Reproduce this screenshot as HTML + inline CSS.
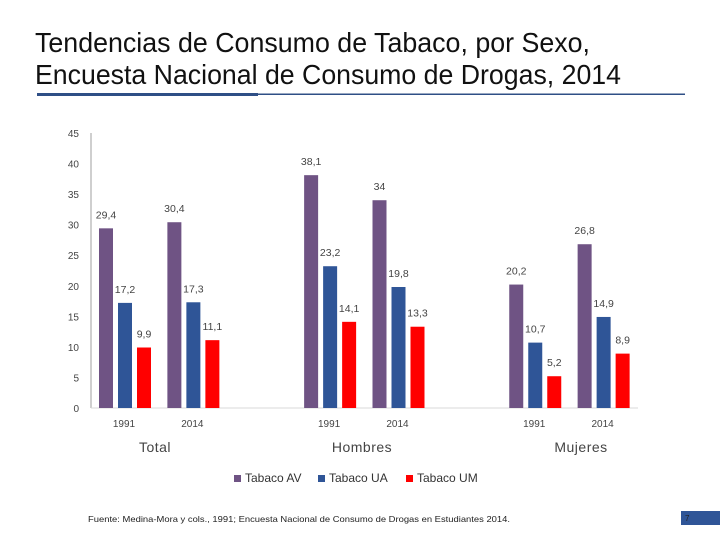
<!DOCTYPE html>
<html><head><meta charset="utf-8"><style>
html,body{margin:0;padding:0;background:#fff;}
svg{display:block;font-family:"Liberation Sans",sans-serif;}
</style></head><body>
<svg id="c" width="720" height="540" viewBox="0 0 720 540">
<text x="35" y="52" font-size="28" fill="#111" textLength="555" lengthAdjust="spacingAndGlyphs">Tendencias de Consumo de Tabaco, por Sexo,</text>
<text x="35" y="84" font-size="28" fill="#111" textLength="586" lengthAdjust="spacingAndGlyphs">Encuesta Nacional de Consumo de Drogas, 2014</text>
<rect x="37" y="93" width="221" height="3" fill="#2f4f86"/>
<rect x="258" y="93.5" width="427" height="1.5" fill="#2f4f86"/>
<g id="plot"></g>
<text x="155" y="452" font-size="14" fill="#444" letter-spacing="0.5" text-anchor="middle">Total</text>
<text x="362" y="452" font-size="14" fill="#444" letter-spacing="0.5" text-anchor="middle">Hombres</text>
<text x="581" y="452" font-size="14" fill="#444" letter-spacing="0.5" text-anchor="middle">Mujeres</text>
<g>
<rect x="234" y="475" width="7" height="7" fill="#6f5384"/>
<text x="245" y="482" font-size="12" fill="#333">Tabaco AV</text>
<rect x="318" y="475" width="7" height="7" fill="#2f5597"/>
<text x="329" y="482" font-size="12" fill="#333">Tabaco UA</text>
<rect x="406" y="475" width="7" height="7" fill="#ff0000"/>
<text x="417" y="482" font-size="12" fill="#333">Tabaco UM</text>
</g>
<text x="88" y="522" font-size="8.5" fill="#222" textLength="422" lengthAdjust="spacingAndGlyphs">Fuente: Medina-Mora y cols., 1991; Encuesta Nacional de Consumo de Drogas en Estudiantes 2014.</text>
<rect x="681" y="511" width="39" height="14" fill="#2f5597"/>
<text x="685" y="521" font-size="8" fill="#222">7</text>
</svg>
<script>
const categories = ["1991","2014","","1991","2014","","1991","2014"];
const tabacoAV = [29.4,30.4,null,38.1,34,null,20.2,26.8];
const tabacoUA = [17.2,17.3,null,23.2,19.8,null,10.7,14.9];
const tabacoUM = [9.9,11.1,null,14.1,13.3,null,5.2,8.9];
const yTicks = [0,5,10,15,20,25,30,35,40,45];
const seriesNames = ["av","ua","um"];
const seriesColors = ["#6f5384","#2f5597","#ff0000"];

const NS="http://www.w3.org/2000/svg";
const g=document.getElementById('plot');
const x0=91, x1=638, yBase=408, yTop=133, yMax=45;
const slot=(x1-x0)/categories.length;
const y=v=>yBase-(v/yMax)*(yBase-yTop);
const xBar=(i,s)=>x0+i*slot+8+s*19;
function mk(t,a){const e=document.createElementNS(NS,t);for(const k in a)e.setAttribute(k,a[k]);g.appendChild(e);return e;}

let ax=mk('line',{x1:x0,y1:yTop,x2:x0,y2:yBase,stroke:'#bfbfbf','stroke-width':1.5});


let bx=mk('line',{x1:x0,y1:yBase,x2:x1,y2:yBase,stroke:'#d9d9d9','stroke-width':1});


yTicks.forEach(t=>{
  const e=mk('text',{x:x0-12,y:y(t)+4,'font-size':10,fill:'#444','text-anchor':'end'});
  e.textContent=t;
  
  
});
categories.forEach((c,i)=>{
  if(!c)return;
  const e=mk('text',{x:x0+i*slot+33,y:yBase+19,'font-size':10,fill:'#444','text-anchor':'middle'});
  e.textContent=c;
  
  
});
[tabacoAV,tabacoUA,tabacoUM].forEach((arr,s)=>{
  arr.forEach((v,i)=>{
    if(v==null)return;
    const r=mk('rect',{x:xBar(i,s),y:y(v),width:14,height:yBase-y(v),fill:seriesColors[s]});
    
    
    const l=mk('text',{x:xBar(i,s)+7,y:y(v)-10,'font-size':10.5,fill:'#444','text-anchor':'middle'});
    l.textContent=String(v).replace('.',',');
    
    
  });
});
</script>
</body></html>
